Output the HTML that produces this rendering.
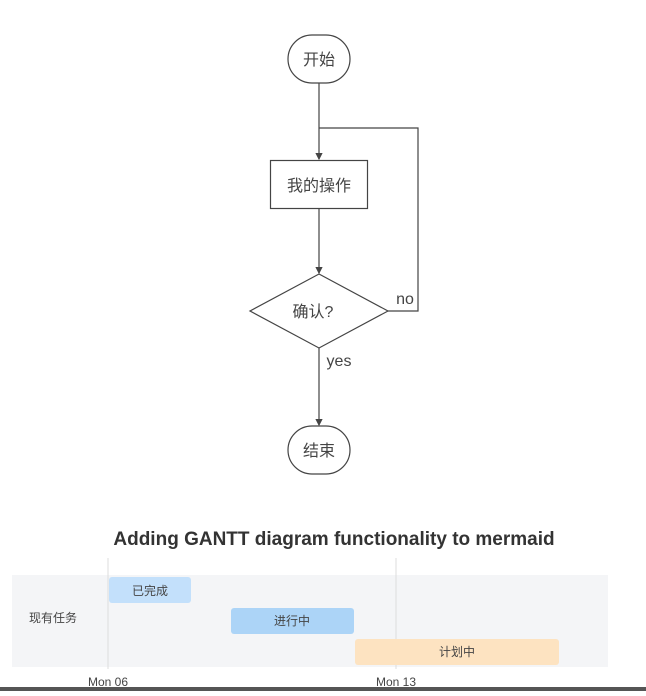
<!DOCTYPE html>
<html><head><meta charset="utf-8"><style>
body{margin:0;background:#fff;width:646px;height:691px;overflow:hidden;font-family:"Liberation Sans","Noto Sans CJK SC",sans-serif}
</style></head><body>
<svg width="646" height="691" viewBox="0 0 646 691" xmlns="http://www.w3.org/2000/svg" font-family="Liberation Sans, Noto Sans CJK SC, sans-serif">
<defs><marker id="a" markerWidth="6" markerHeight="6" refX="5" refY="3" orient="auto"><path d="M0,0 L6,3 L0,6z" fill="#444"/></marker></defs>
<g stroke="#444" stroke-width="1.2" fill="none">
<line x1="319" y1="83" x2="319" y2="159" marker-end="url(#a)"/>
<line x1="319" y1="209" x2="319" y2="273" marker-end="url(#a)"/>
<line x1="319" y1="348" x2="319" y2="425" marker-end="url(#a)"/>
<polyline points="388,311 418,311 418,128 319,128"/>
<rect x="288" y="35" width="62" height="48" rx="24" fill="#fff"/>
<rect x="270.5" y="160.5" width="97" height="48" fill="#fff"/>
<polygon points="319,274 388,311 319,348 250,311" fill="#fff"/>
<rect x="288" y="426" width="62" height="48" rx="24" fill="#fff"/>
</g>
<g fill="#444" font-size="16" text-anchor="middle">
<text x="319" y="65">开始</text>
<text x="319" y="191">我的操作</text>
<text x="313" y="317">确认?</text>
<text x="319" y="456">结束</text>
<text x="405" y="304">no</text>
<text x="339" y="366">yes</text>
</g>
<text x="334" y="545" font-size="19" font-weight="bold" fill="#333" text-anchor="middle">Adding GANTT diagram functionality to mermaid</text>
<rect x="12" y="575" width="596" height="92" fill="#f4f5f7"/>
<line x1="108" y1="558" x2="108" y2="669" stroke="#ddd"/>
<line x1="396" y1="558" x2="396" y2="669" stroke="#ddd"/>
<rect x="109" y="577" width="82" height="26" rx="3" fill="#c3e0fb"/>
<rect x="231" y="608" width="123" height="26" rx="3" fill="#acd4f7"/>
<rect x="355" y="639" width="204" height="26" rx="3" fill="#fde3c1"/>
<g font-size="12" fill="#444" text-anchor="middle">
<text x="150" y="595">已完成</text>
<text x="292" y="625">进行中</text>
<text x="457" y="656">计划中</text>
<text x="108" y="686">Mon 06</text>
<text x="396" y="686">Mon 13</text>
<text x="53" y="622">现有任务</text>
</g>
<rect x="0" y="687" width="646" height="4" fill="#555"/>
</svg>
</body></html>
